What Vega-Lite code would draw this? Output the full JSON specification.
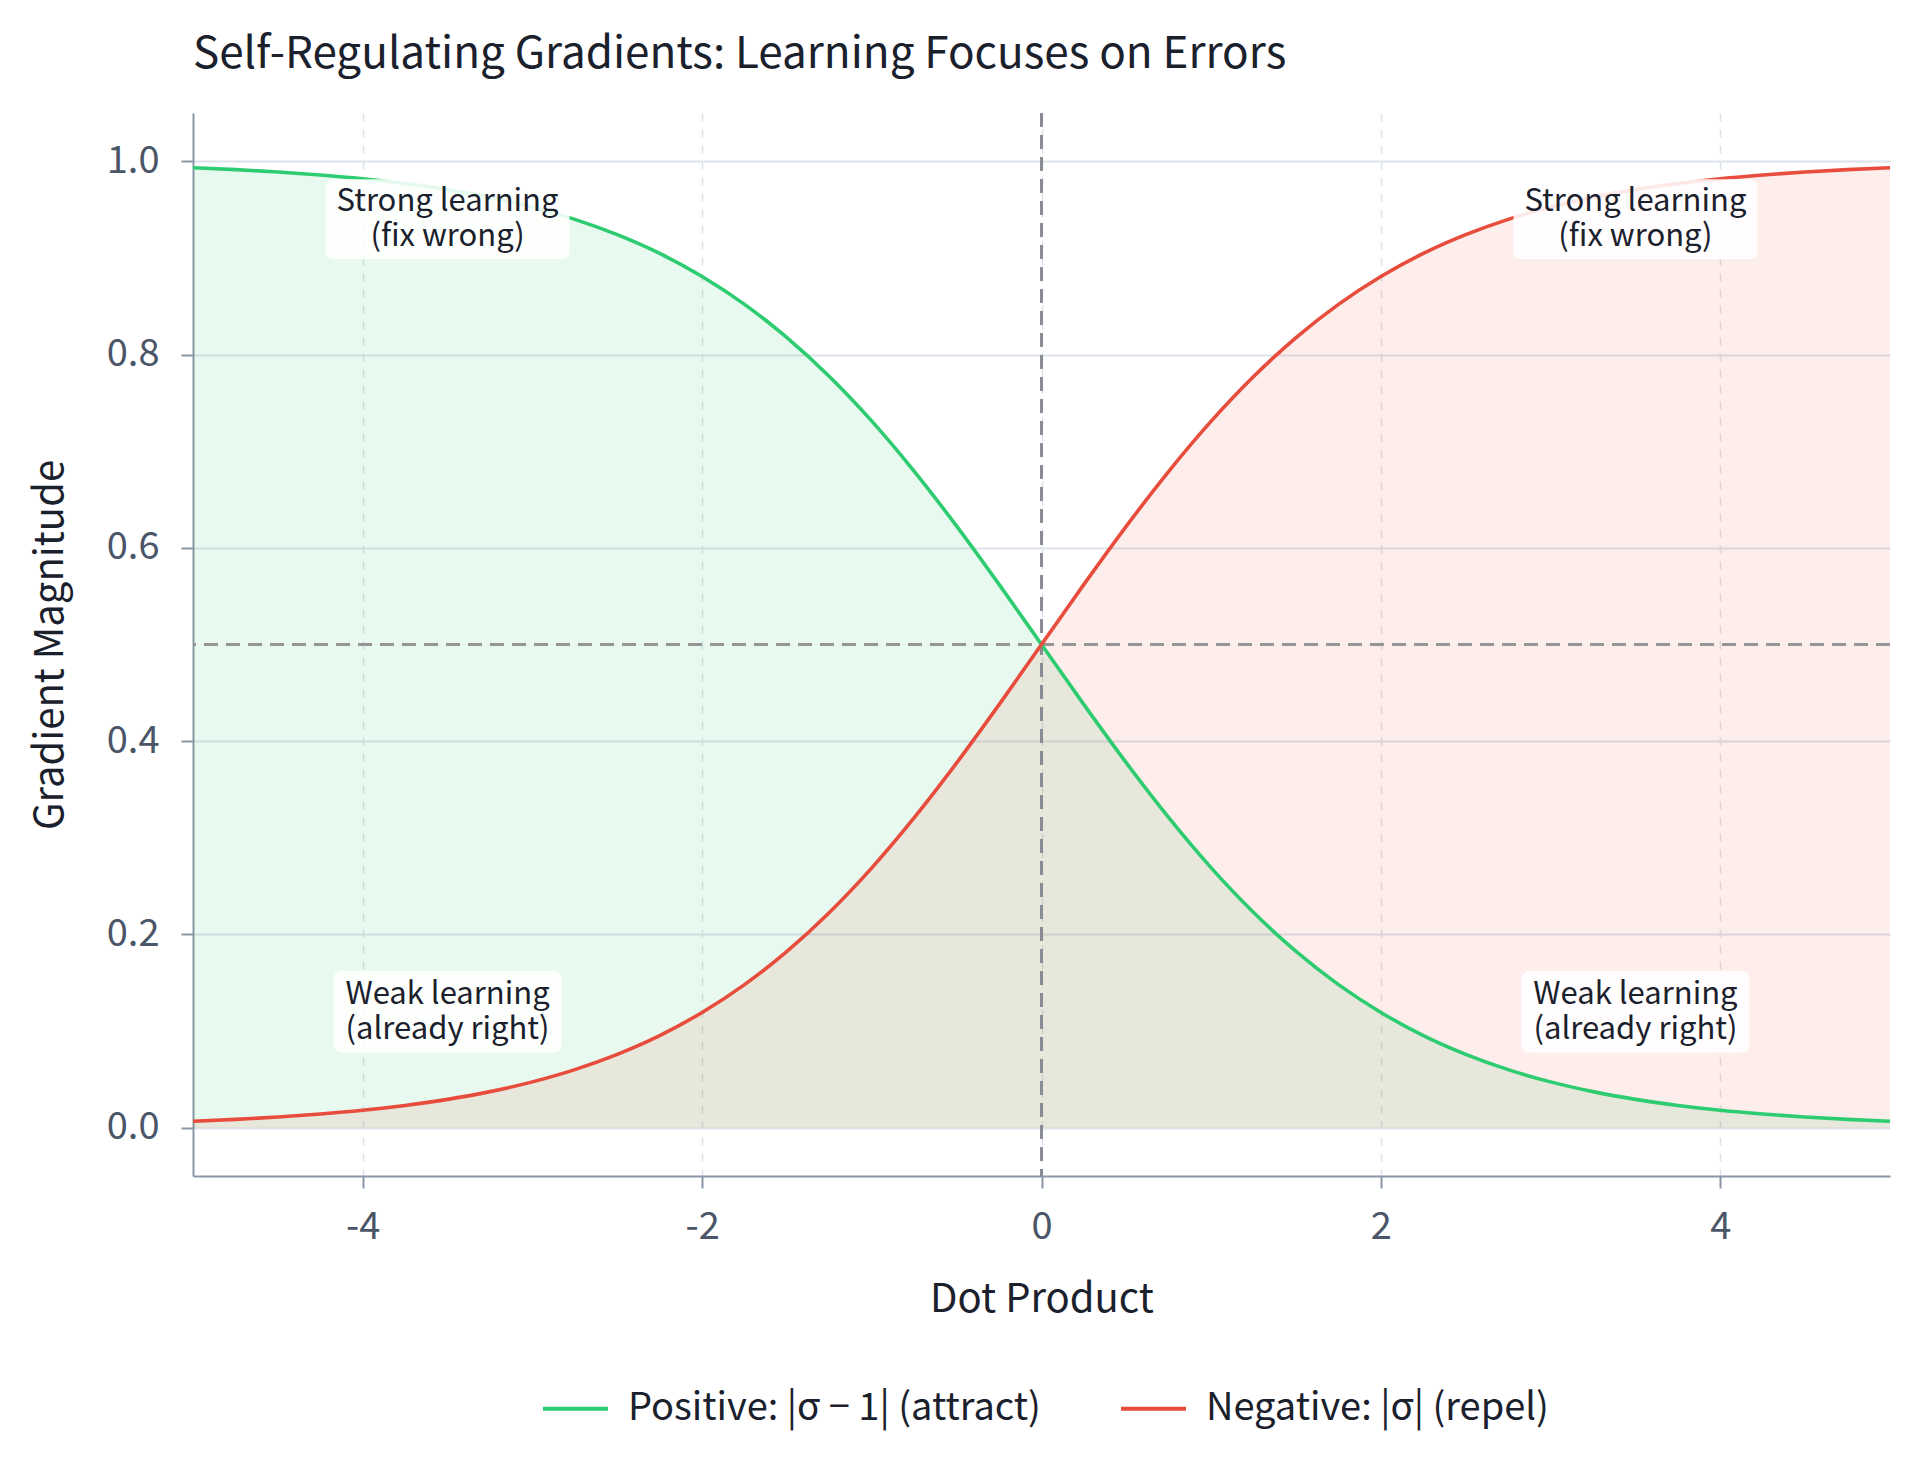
{
  "$schema": "https://vega.github.io/schema/vega-lite/v6.json",
  "width": 1697,
  "height": 1063,
  "autosize": {"type": "none"},
  "padding": {"left": 193, "top": 113, "right": 30, "bottom": 306},
  "background": "white",
  "title": {
    "text": "Self-Regulating Gradients: Learning Focuses on Errors",
    "anchor": "start", "frame": "group", "baseline": "alphabetic", "offset": 0,
    "fontSize": 44, "fontWeight": "normal", "color": "#1a202c"
  },
  "datasets": {
    "curves": [
      {"x": -5, "pos": 0.9933, "neg": 0.0067},
      {"x": -4.75, "pos": 0.9914, "neg": 0.0086},
      {"x": -4.5, "pos": 0.9890, "neg": 0.0110},
      {"x": -4.25, "pos": 0.9859, "neg": 0.0141},
      {"x": -4, "pos": 0.9820, "neg": 0.0180},
      {"x": -3.75, "pos": 0.9770, "neg": 0.0230},
      {"x": -3.5, "pos": 0.9707, "neg": 0.0293},
      {"x": -3.25, "pos": 0.9627, "neg": 0.0373},
      {"x": -3, "pos": 0.9526, "neg": 0.0474},
      {"x": -2.75, "pos": 0.9399, "neg": 0.0601},
      {"x": -2.5, "pos": 0.9241, "neg": 0.0759},
      {"x": -2.25, "pos": 0.9047, "neg": 0.0953},
      {"x": -2, "pos": 0.8808, "neg": 0.1192},
      {"x": -1.75, "pos": 0.8520, "neg": 0.1480},
      {"x": -1.5, "pos": 0.8176, "neg": 0.1824},
      {"x": -1.25, "pos": 0.7773, "neg": 0.2227},
      {"x": -1, "pos": 0.7311, "neg": 0.2689},
      {"x": -0.75, "pos": 0.6792, "neg": 0.3208},
      {"x": -0.5, "pos": 0.6225, "neg": 0.3775},
      {"x": -0.25, "pos": 0.5622, "neg": 0.4378},
      {"x": 0, "pos": 0.5, "neg": 0.5},
      {"x": 0.25, "pos": 0.4378, "neg": 0.5622},
      {"x": 0.5, "pos": 0.3775, "neg": 0.6225},
      {"x": 0.75, "pos": 0.3208, "neg": 0.6792},
      {"x": 1, "pos": 0.2689, "neg": 0.7311},
      {"x": 1.25, "pos": 0.2227, "neg": 0.7773},
      {"x": 1.5, "pos": 0.1824, "neg": 0.8176},
      {"x": 1.75, "pos": 0.1480, "neg": 0.8520},
      {"x": 2, "pos": 0.1192, "neg": 0.8808},
      {"x": 2.25, "pos": 0.0953, "neg": 0.9047},
      {"x": 2.5, "pos": 0.0759, "neg": 0.9241},
      {"x": 2.75, "pos": 0.0601, "neg": 0.9399},
      {"x": 3, "pos": 0.0474, "neg": 0.9526},
      {"x": 3.25, "pos": 0.0373, "neg": 0.9627},
      {"x": 3.5, "pos": 0.0293, "neg": 0.9707},
      {"x": 3.75, "pos": 0.0230, "neg": 0.9770},
      {"x": 4, "pos": 0.0180, "neg": 0.9820},
      {"x": 4.25, "pos": 0.0141, "neg": 0.9859},
      {"x": 4.5, "pos": 0.0110, "neg": 0.9890},
      {"x": 4.75, "pos": 0.0086, "neg": 0.9914},
      {"x": 5, "pos": 0.0067, "neg": 0.9933}
    ],
    "notes": [
      {"x": -3.5, "y": 0.94, "kind": "strong", "label": "Strong learning\n(fix wrong)"},
      {"x": 3.5, "y": 0.94, "kind": "strong", "label": "Strong learning\n(fix wrong)"},
      {"x": -3.5, "y": 0.12, "kind": "weak", "label": "Weak learning\n(already right)"},
      {"x": 3.5, "y": 0.12, "kind": "weak", "label": "Weak learning\n(already right)"}
    ]
  },
  "layer": [
    {
      "data": {"name": "curves"},
      "mark": {"type": "area", "fill": "#2ecc71", "fillOpacity": 0.11, "interpolate": "monotone"},
      "encoding": {
        "x": {
          "field": "x", "type": "quantitative", "title": "Dot Product",
          "scale": {"domain": [-5, 5], "nice": false},
          "axis": {
            "values": [-4, -2, 0, 2, 4], "format": "d",
            "labelExpr": "replace(datum.label, '\u2212', '-')",
            "grid": true, "gridDash": [8, 8], "gridColor": "#dde2e8", "gridWidth": 1.5,
            "labelPadding": 20, "titlePadding": 33
          }
        },
        "y": {
          "field": "pos", "type": "quantitative", "title": "Gradient Magnitude",
          "scale": {"domain": [-0.05, 1.05], "nice": false, "zero": false},
          "axis": {
            "values": [0, 0.2, 0.4, 0.6, 0.8, 1.0], "format": ".1f",
            "grid": true, "gridColor": "#dde3ea", "gridWidth": 2,
            "labelPadding": 22, "titlePadding": 36
          }
        }
      }
    },
    {
      "data": {"name": "curves"},
      "mark": {"type": "area", "fill": "#e74c3c", "fillOpacity": 0.1, "interpolate": "monotone"},
      "encoding": {
        "x": {"field": "x", "type": "quantitative"},
        "y": {"field": "neg", "type": "quantitative"}
      }
    },
    {
      "data": {"values": [{}]},
      "mark": {"type": "rule", "color": "#959595", "strokeWidth": 3, "strokeDash": [14, 8]},
      "encoding": {"y": {"datum": 0.5}}
    },
    {
      "data": {"values": [{}]},
      "mark": {"type": "rule", "color": "#8a8c95", "strokeWidth": 3, "strokeDash": [14, 8]},
      "encoding": {"x": {"datum": 0}}
    },
    {
      "data": {"name": "curves"},
      "transform": [{"fold": ["pos", "neg"], "as": ["series", "value"]}],
      "mark": {"type": "line", "strokeWidth": 3.6, "interpolate": "monotone"},
      "encoding": {
        "x": {"field": "x", "type": "quantitative"},
        "y": {"field": "value", "type": "quantitative"},
        "color": {
          "field": "series", "type": "nominal",
          "scale": {"domain": ["pos", "neg"], "range": ["#2ecc71", "#e74c3c"]},
          "legend": {
            "title": null,
            "orient": "none", "legendX": 348, "legendY": 1261, "direction": "horizontal",
            "labelExpr": "datum.label == 'pos' ? 'Positive: |\u03c3 \u2212 1| (attract)' : 'Negative: |\u03c3| (repel)'"
          }
        }
      }
    },
    {
      "data": {"name": "notes"},
      "transform": [{"filter": "datum.kind == 'strong'"}],
      "mark": {"type": "rect", "width": 244, "height": 80, "fill": "white", "opacity": 0.88, "cornerRadius": 8},
      "encoding": {
        "x": {"field": "x", "type": "quantitative"},
        "y": {"field": "y", "type": "quantitative"}
      }
    },
    {
      "data": {"name": "notes"},
      "transform": [{"filter": "datum.kind == 'weak'"}],
      "mark": {"type": "rect", "width": 228, "height": 82, "fill": "white", "opacity": 0.88, "cornerRadius": 8},
      "encoding": {
        "x": {"field": "x", "type": "quantitative"},
        "y": {"field": "y", "type": "quantitative"}
      }
    },
    {
      "data": {"name": "notes"},
      "mark": {"type": "text", "fontSize": 31, "lineHeight": 35, "lineBreak": "\n", "align": "center", "baseline": "middle", "dy": -17, "color": "#1a202c"},
      "encoding": {
        "x": {"field": "x", "type": "quantitative"},
        "y": {"field": "y", "type": "quantitative"},
        "text": {"field": "label"}
      }
    }
  ],
  "config": {
    "font": "Noto Sans CJK KR",
    "view": {"stroke": null},
    "axis": {
      "domainColor": "#8a96a8", "domainWidth": 2,
      "tickColor": "#8a96a8", "tickWidth": 2, "tickSize": 12,
      "labelFontSize": 38, "labelColor": "#4a5568",
      "titleFontSize": 40, "titleFontWeight": "normal", "titleColor": "#1a202c"
    },
    "legend": {
      "symbolType": "stroke", "symbolStrokeWidth": 4, "symbolSize": 4225,
      "labelFontSize": 38, "labelColor": "#1a202c", "labelOffset": 18, "columnPadding": 72,
      "labelLimit": 800
    }
  }
}
